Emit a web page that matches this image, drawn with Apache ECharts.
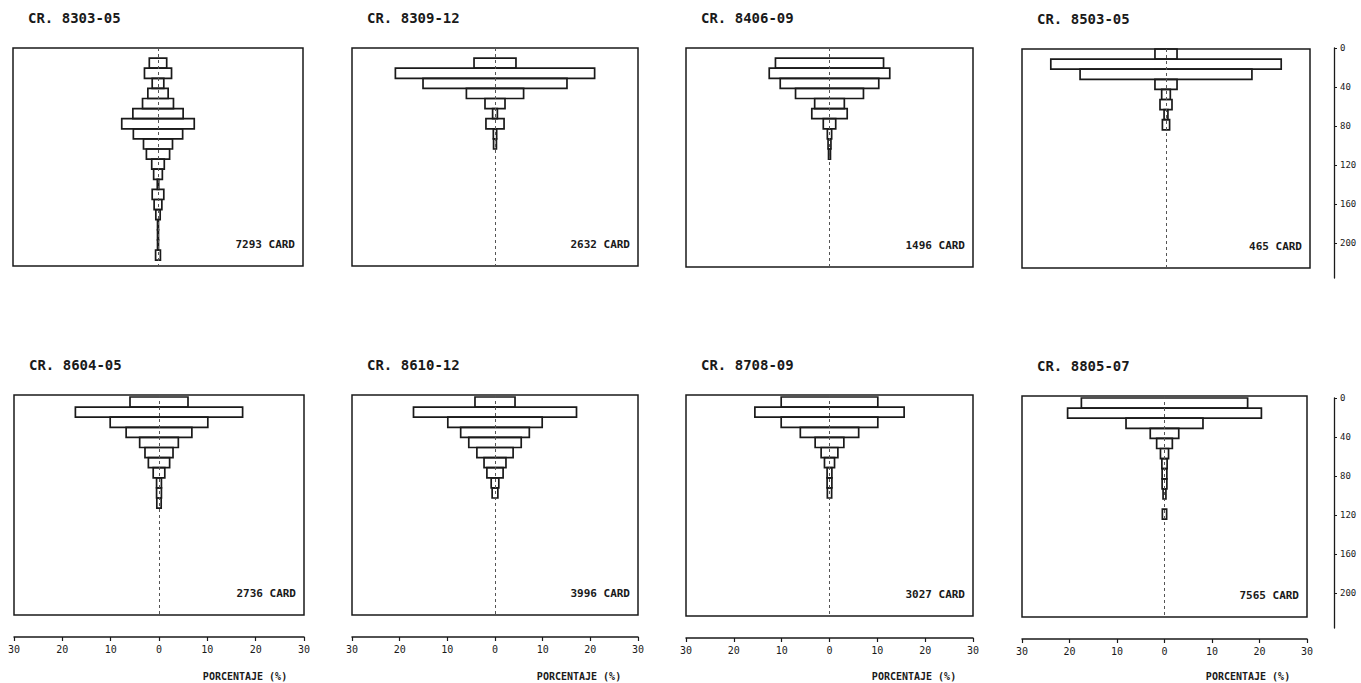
<!DOCTYPE html>
<html><head><meta charset="utf-8">
<script src="https://cdn.jsdelivr.net/npm/echarts@6/dist/echarts.min.js"></script>
<style>html,body{margin:0;padding:0;background:#fff}#c{width:1361px;height:683px}</style>
</head><body><div id="c"></div>
<script>
// ---- data (half-width of each 10 m depth bin, in %) ----
const BIN = 10;
const depthBinTops = [0,10,20,30,40,50,60,70,80,90,100,110,120,130,140,150,160,170,180,190,200,210];
const cruiseTitles = ['CR. 8303-05','CR. 8309-12','CR. 8406-09','CR. 8503-05','CR. 8604-05','CR. 8610-12','CR. 8708-09','CR. 8805-07'];
const cardLabels = ['7293 CARD','2632 CARD','1496 CARD','465 CARD','2736 CARD','3996 CARD','3027 CARD','7565 CARD'];
const cr8303_05 = [0, 1.8, 2.8, 1.2, 2.1, 3.2, 5.2, 7.5, 5.1, 3.0, 2.4, 1.3, 0.9, 0.15, 1.2, 0.8, 0.45, 0.1, 0.1, 0.1, 0.5, 0];
const cr8309_12 = [0, 4.4, 20.9, 15.1, 6.0, 2.1, 0.5, 1.9, 0.35, 0.3, 0, 0, 0, 0, 0, 0, 0, 0, 0, 0, 0, 0];
const cr8406_09 = [0, 11.3, 12.6, 10.3, 7.1, 3.1, 3.7, 1.3, 0.45, 0.3, 0.2, 0, 0, 0, 0, 0, 0, 0, 0, 0, 0, 0];
const cr8503_05 = [2.3, 24.0, 17.9, 2.3, 0.9, 1.25, 0.4, 0.75, 0, 0, 0, 0, 0, 0, 0, 0, 0, 0, 0, 0, 0, 0];
const cr8604_05 = [6.0, 17.3, 10.1, 6.8, 4.0, 2.9, 2.2, 1.2, 0.5, 0.5, 0.45, 0, 0, 0, 0, 0, 0, 0, 0, 0, 0, 0];
const cr8610_12 = [4.2, 17.1, 9.9, 7.2, 5.5, 3.8, 2.3, 1.7, 0.8, 0.6, 0, 0, 0, 0, 0, 0, 0, 0, 0, 0, 0, 0];
const cr8708_09 = [10.1, 15.6, 10.1, 6.1, 3.0, 1.75, 1.05, 0.5, 0.5, 0.45, 0, 0, 0, 0, 0, 0, 0, 0, 0, 0, 0, 0];
const cr8805_07 = [17.5, 20.4, 8.1, 3.0, 1.65, 0.85, 0.55, 0.5, 0.5, 0.3, 0, 0.45, 0, 0, 0, 0, 0, 0, 0, 0, 0, 0];
const panelValues = [cr8303_05, cr8309_12, cr8406_09, cr8503_05, cr8604_05, cr8610_12, cr8708_09, cr8805_07];
const percentRange = [-30, 30];
const depthAxisMax = 236;
const axisName = 'PORCENTAJE (%)';

// ---- layout ----
const INK = '#1a1a1a';
const MONO = '"DejaVu Sans Mono", "Liberation Mono", monospace';
const boxes = [
  [13,48,290,218],[352,48,286,218],[686,48,287,219],[1022,49,288,219],
  [14,395,290,220],[352,395,286,220],[686,395,287,221],[1022,396,285,221]
];
const PX_PER_M = 1.01;

const grid = [], xAxis = [], yAxis = [], series = [], graphic = [];
boxes.forEach((b, i) => {
  const bottomRow = i >= 4;
  const yMin = bottomRow ? -2 : 0;
  grid.push({left:b[0], top:b[1], width:b[2], height:b[3], show:true, borderColor:INK, borderWidth:1.5, backgroundColor:'#fff'});
  xAxis.push({
    gridIndex:i, type:'value', min:percentRange[0], max:percentRange[1], interval:10,
    show:bottomRow, position:'bottom', offset:22,
    axisLine:{show:true, onZero:false, lineStyle:{color:INK, width:1.5}},
    axisTick:{show:true, length:4, lineStyle:{color:INK, width:1.2}},
    axisLabel:{show:true, margin:7, fontSize:10, fontFamily:MONO, color:INK, formatter:v=>String(Math.abs(v))},
    splitLine:{show:false}
  });
  yAxis.push({gridIndex:i, type:'value', inverse:true, min:yMin, max:yMin + b[3]/PX_PER_M, show:false, splitLine:{show:false}});
  const vals = panelValues[i];
  series.push({
    type:'custom', xAxisIndex:i, yAxisIndex:i, animation:false, silent:true,
    dimensions:['pct','depth'], encode:{x:0, y:1},
    data: vals.map((v,k)=>[v, depthBinTops[k]]).filter(d=>d[0]>0),
    renderItem:(params, api)=>{
      const v = api.value(0), d = api.value(1);
      const a = api.coord([-v, d]), c = api.coord([v, d + BIN]);
      return {type:'rect', shape:{x:a[0], y:Math.min(a[1],c[1]), width:c[0]-a[0], height:Math.abs(c[1]-a[1])},
        style:{fill:'none', stroke:INK, lineWidth:1.7}};
    },
    markLine:{silent:true, symbol:'none', animation:false, label:{show:false},
      lineStyle:{color:'#555', width:1, type:[3,3]}, data:[{xAxis:0}]}
  });
  // texts
  graphic.push({type:'text', x:b[0]+15, y:b[1]-30, style:{text:cruiseTitles[i], font:'bold 14px '+MONO, fill:INK, align:'left', verticalAlign:'middle', textAlign:'left', textVerticalAlign:'middle'}});
  graphic.push({type:'text', x:b[0]+b[2]-8, y:b[1]+b[3]-22, style:{text:cardLabels[i], font:'bold 11px '+MONO, fill:INK, align:'right', verticalAlign:'middle', textAlign:'right', textVerticalAlign:'middle'}});
  if (bottomRow) {
    graphic.push({type:'text', x:b[0]+b[2]-59, y:676, style:{text:axisName, font:'bold 10px '+MONO, fill:INK, align:'center', verticalAlign:'middle', textAlign:'center', textVerticalAlign:'middle'}});
  }
});
// right-hand depth axes
[[48],[398]].forEach((t, j) => {
  const gi = grid.length;
  grid.push({left:1334, top:t[0], width:1, height:230, show:false});
  xAxis.push({gridIndex:gi, type:'value', show:false});
  yAxis.push({gridIndex:gi, type:'value', inverse:true, min:0, max:depthAxisMax, interval:40, position:'left',
    axisLine:{show:true, lineStyle:{color:INK, width:1.3}},
    axisTick:{show:true, inside:true, length:3, lineStyle:{color:INK}},
    axisLabel:{show:true, inside:true, margin:6, fontSize:9, fontFamily:MONO, color:INK, showMaxLabel:false},
    splitLine:{show:false}});
});

const chart = echarts.init(document.getElementById('c'), null, {renderer:'svg'});
chart.setOption({backgroundColor:'#fff', animation:false, grid, xAxis, yAxis, series, graphic});
</script>
</body></html>
